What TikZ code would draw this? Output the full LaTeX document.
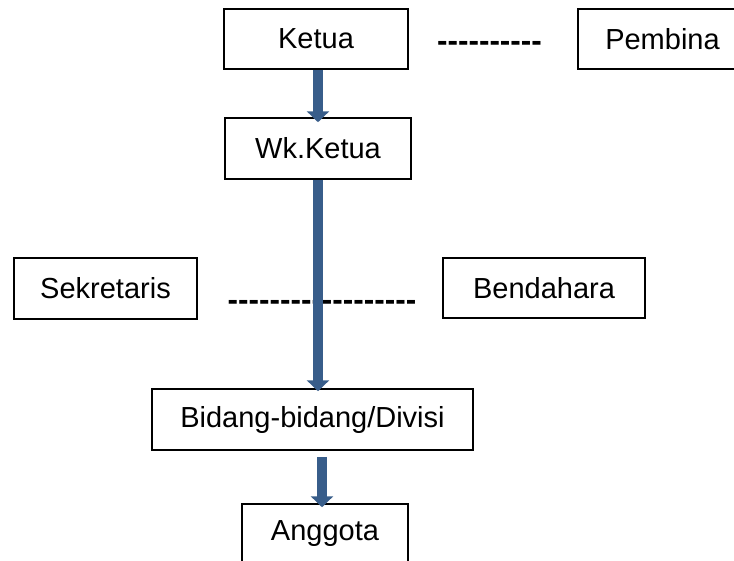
\documentclass[tikz,border=0pt]{standalone}
\usepackage{fontspec}
\setmainfont{Liberation Sans}
\usetikzlibrary{arrows.meta}
\definecolor{birutua}{HTML}{385D8A}
\tikzset{
    %Define style for boxes
    kotak/.style={
           rectangle,
           draw=black, line width=1.5pt,
           font=\fontsize{29}{34}\selectfont,
           inner sep=0pt,
           text centered},
    %Define style for the rows of hyphens
    garis/.style={
           font=\fontsize{31.5}{34}\selectfont\bfseries,
           inner sep=0pt},
    % Define arrow style
    panah/.style={
           -{Triangle[width=22pt,length=11pt]},
           line width=10pt,
           draw=birutua}
}
\newcommand\putus[1]{\foreach \i in {1,...,#1}{-\kern0pt}}

\begin{document}
\begin{tikzpicture}[x=1pt,y=-1pt]
 \useasboundingbox (0,0) rectangle (734,560);
 %boxes
 \node[kotak, minimum width=184pt, minimum height=60pt] (ketua) at (316,39) {Ketua};
 \node[kotak, minimum width=169pt, minimum height=60pt] (pembina) at (662.5,39) {Pembina};
 \node[kotak, minimum width=186pt, minimum height=61pt] (wakil) at (318,148.5) {Wk.Ketua};
 \node[kotak, minimum width=183pt, minimum height=61pt] (sekretaris) at (105.5,288.5) {Sekretaris};
 \node[kotak, minimum width=202pt, minimum height=60pt] (bendahara) at (544,288) {Bendahara};
 \node[kotak, minimum width=321pt, minimum height=61pt] (bidang) at (312.5,419.5) {Bidang-bidang/Divisi};
 \node[kotak, minimum width=166pt, minimum height=60pt] (anggota) at (325,534) {Anggota};
 % rows of hyphens between the boxes
 \node[garis] (putus1) at (489.5,46.5) {\putus{10}};
 \node[garis] (putus2) at (322,305.5) {\putus{18}};
 %arrows
 \draw[panah] (wakil.north |- ketua.south) -- ([yshift=-5pt]wakil.north);
 \draw[panah] (wakil.south) -- ([yshift=-3pt]wakil.south |- bidang.north);
 \draw[panah] ([xshift=-3pt,yshift=-6pt]anggota.north |- bidang.south)
   -- ([xshift=-3pt,yshift=-4pt]anggota.north);
\end{tikzpicture}
\end{document}
